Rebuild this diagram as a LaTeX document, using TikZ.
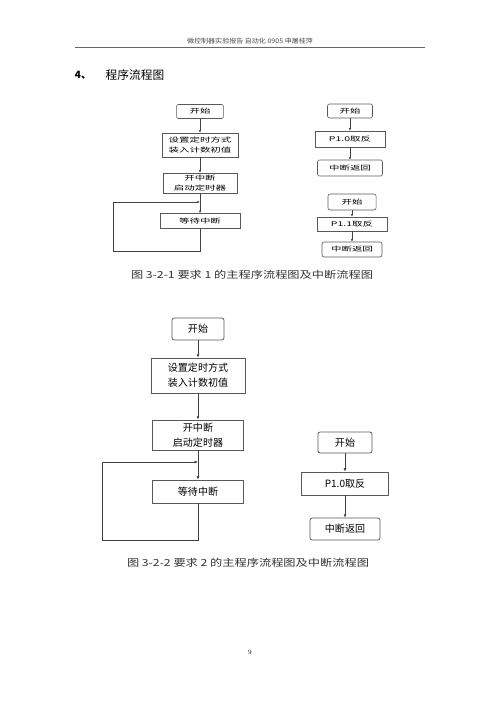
\documentclass[tikz,border=0pt]{standalone}
\usepackage{fontspec}
\usepackage{graphicx}
\usepackage{tikz}
\usetikzlibrary{arrows.meta, positioning}
\newfontfamily\cjk{Noto Sans CJK SC}
\newcommand{\yflat}[2]{\scalebox{1}[#1]{#2}}

\begin{document}
\begin{tikzpicture}[x=0.042cm, y=-0.042cm,
                box/.style={draw=black!65, rectangle, line width=0.7pt, inner sep=0pt, align=center},
                term/.style={box, rounded corners=2.5pt},
                small/.style={font=\cjk\fontsize{12.5}{12}\selectfont},
                large/.style={font=\cjk\fontsize{12}{18}\selectfont, line width=0.9pt},
                caption/.style={font=\cjk\fontsize{14.6}{16}\selectfont, text=black!80},
                arrow/.style={-{Latex[length=3pt, width=2.6pt]}, draw=black!75, line width=0.6pt},
                bigarrow/.style={-{Latex[length=4pt, width=3.4pt]}, draw=black!75, line width=0.7pt}
            ]
            \path[fill=white] (0,0) rectangle (500,707);

            % Page header
            \node[font=\cjk\fontsize{8.4}{10}\selectfont, text=black!70] (header) at (250,41) {\yflat{0.9}{微控制器实验报告\ 自动化 0905\ 申屠桂萍}};
            \draw[black!60, line width=0.6pt] (75,47) -- (425,47);
            \node[font=\cjk\bfseries\fontsize{12}{14}\selectfont] (secNum) at (83,75) {4、};
            \node[font=\cjk\fontsize{14}{16}\selectfont] (secTitle) at (135,75) {程序流程图};

            % Figure 3-2-1: main program
            \begin{scope}
                \node[term, small, minimum width=1.97cm, minimum height=0.59cm] (startA) at (200,111.5) {\yflat{0.62}{开始}};
                \node[box, small, minimum width=3.19cm, minimum height=1.01cm] (setA) at (200,145) {\yflat{0.62}{设置定时方式}\\\yflat{0.62}{装入计数初值}};
                \node[box, small, minimum width=3.11cm, minimum height=0.84cm] (intA) at (200,183) {\yflat{0.62}{开中断}\\\yflat{0.62}{启动定时器}};
                \node[box, small, minimum width=3.36cm, minimum height=0.63cm] (waitA) at (200,221) {\yflat{0.62}{等待中断}};
                \coordinate (joinA) at (200,202);
                \coordinate (cornerA) at (113,251);
            \end{scope}

            % Figure 3-2-1: interrupt routines
            \begin{scope}
                \node[term, small, minimum width=1.89cm, minimum height=0.59cm] (isrStartA) at (350,111) {\yflat{0.62}{开始}};
                \node[box, small, minimum width=2.94cm, minimum height=0.67cm] (isrInvA) at (350,139) {\yflat{0.62}{P1.0取反}};
                \node[term, small, minimum width=2.73cm, minimum height=0.67cm] (isrRetA) at (350,168) {\yflat{0.62}{中断返回}};
                \node[term, small, minimum width=2.02cm, minimum height=0.67cm] (isrStartB) at (352,202) {\yflat{0.62}{开始}};
                \node[box, small, minimum width=2.94cm, minimum height=0.59cm] (isrInvB) at (352,224) {\yflat{0.62}{P1.1取反}};
                \node[term, small, minimum width=2.52cm, minimum height=0.63cm] (isrRetB) at (352,249.5) {\yflat{0.62}{中断返回}};
            \end{scope}

            \node[caption] (capA) at (252,275) {\yflat{0.8}{图 3-2-1 要求 1 的主程序流程图及中断流程图}};

            % Figure 3-2-2: main program
            \begin{scope}
                \node[term, large, minimum width=2.18cm, minimum height=0.92cm] (startB) at (198,329) {开始};
                \node[box, large, minimum width=3.95cm, minimum height=1.47cm] (setB) at (198,375.5) {设置定时方式\\装入计数初值};
                \node[box, large, minimum width=3.82cm, minimum height=1.26cm] (intB) at (198,435) {开中断\\启动定时器};
                \node[box, large, minimum width=3.82cm, minimum height=0.97cm] (waitB) at (198,491.5) {等待中断};
                \coordinate (joinB) at (198,462);
                \coordinate (cornerB) at (102,540);
            \end{scope}

            % Figure 3-2-2: interrupt routine
            \begin{scope}
                \node[term, large, minimum width=2.27cm, minimum height=0.88cm] (isrStartC) at (345,442.5) {开始};
                \node[box, large, minimum width=3.65cm, minimum height=0.97cm] (isrInvC) at (345,483.5) {P1.0取反};
                \node[term, large, minimum width=2.94cm, minimum height=0.92cm] (isrRetC) at (345,529) {中断返回};
            \end{scope}

            \node[caption] (capB) at (248,563) {\yflat{0.8}{图 3-2-2 要求 2 的主程序流程图及中断流程图}};

            \node[font=\fontsize{8}{9}\selectfont] (pageNum) at (250,652) {9};

            % Connections
            \draw[arrow] (startA) -- (setA);
            \draw[arrow] (setA) -- (intA);
            \draw[arrow] (intA) -- (waitA);
            \draw[arrow] (waitA) |- (cornerA) |- (joinA);

            \draw[arrow] (isrStartA) -- (isrInvA);
            \draw[arrow] (isrInvA) -- (isrRetA);
            \draw[arrow] (isrStartB) -- (isrInvB);
            \draw[arrow] (isrInvB) -- (isrRetB);

            \draw[bigarrow] (startB) -- (setB);
            \draw[bigarrow] (setB) -- (intB);
            \draw[bigarrow] (intB) -- (waitB);
            \draw[bigarrow] (waitB) |- (cornerB) |- (joinB);

            \draw[bigarrow] (isrStartC) -- (isrInvC);
            \draw[bigarrow] (isrInvC) -- (isrRetC);
        \end{tikzpicture}
\end{document}
